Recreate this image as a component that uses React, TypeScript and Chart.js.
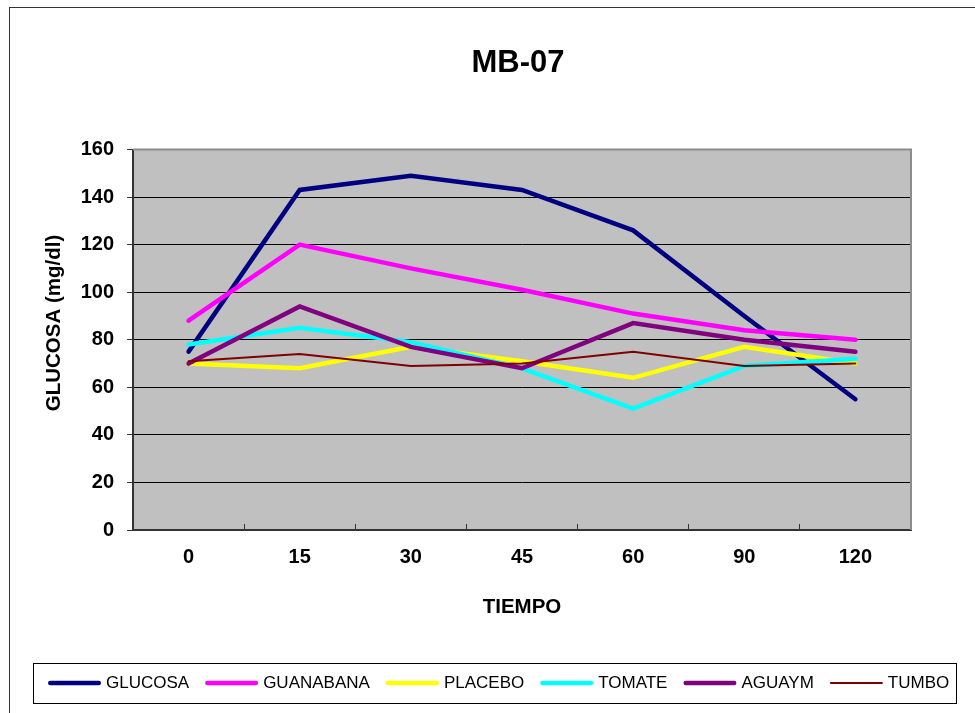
import React, { useEffect, useRef } from "react";
import { Chart, registerables } from "chart.js";

Chart.register(...registerables);

// ---- data ----
const categories = ["0", "15", "30", "45", "60", "90", "120"];
const glucosa = [75, 143, 149, 143, 126, 90, 55];
const guanabana = [88, 120, 110, 101, 91, 84, 80];
const placebo = [70, 68, 77, 71, 64, 77, 70];
const tomate = [78, 85, 79, 68, 51, 69, 72];
const aguaym = [70, 94, 77, 68, 87, 80, 75];
const tumbo = [71, 74, 69, 70, 75, 69, 70];

const seriesNames = ["GLUCOSA", "GUANABANA", "PLACEBO", "TOMATE", "AGUAYM", "TUMBO"];
const seriesValues = [glucosa, guanabana, placebo, tomate, aguaym, tumbo];
const seriesColors = ["#000080", "#FF00FF", "#FFFF00", "#00FFFF", "#800080", "#800000"];
const seriesWidths = [4.5, 4.5, 4.5, 4.5, 4.5, 2];

const yMin = 0;
const yMax = 160;
const yStep = 20;

const chartTitle = "MB-07";
const xTitle = "TIEMPO";
const yTitle = "GLUCOSA (mg/dl)";

const FONT = "'Liberation Sans', Arial, Helvetica, sans-serif";

const decorPlugin = {
  id: "decor",
  beforeDraw(chart: any) {
    const { ctx, chartArea: a } = chart;
    ctx.save();
    ctx.fillStyle = "#ffffff";
    ctx.fillRect(0, 0, chart.width, chart.height);
    ctx.fillStyle = "#C0C0C0";
    ctx.fillRect(a.left, a.top, a.right - a.left, a.bottom - a.top);
    ctx.restore();
  },
  beforeDatasetsDraw(chart: any) {
    const { ctx, chartArea: a } = chart;
    ctx.save();
    ctx.strokeStyle = "#8c8c8c";
    ctx.lineWidth = 2;
    ctx.beginPath();
    ctx.moveTo(a.left, a.top);
    ctx.lineTo(a.right, a.top);
    ctx.lineTo(a.right, a.bottom);
    ctx.stroke();
    ctx.restore();
  },
  afterDraw(chart: any) {
    const { ctx } = chart;
    ctx.save();
    // outer frame
    ctx.strokeStyle = "#333";
    ctx.lineWidth = 1;
    ctx.strokeRect(9.5, 7.5, 1200, 1200);

    // title
    ctx.fillStyle = "#000";
    ctx.textAlign = "center";
    ctx.textBaseline = "middle";
    ctx.font = `bold 31px ${FONT}`;
    ctx.fillText(chartTitle, 518, 63);

    // y title
    ctx.save();
    ctx.translate(54, 323);
    ctx.rotate(-Math.PI / 2);
    ctx.font = `bold 20.5px ${FONT}`;
    ctx.fillText(yTitle, 0, 0);
    ctx.restore();

    // legend
    ctx.strokeStyle = "#000";
    ctx.lineWidth = 1;
    ctx.strokeRect(33.5, 663.5, 923, 40);
    ctx.font = `17px ${FONT}`;
    ctx.textAlign = "left";
    ctx.textBaseline = "middle";
    const cy = 683;
    let x = 48;
    chart.data.datasets.forEach((ds: any) => {
      const hw = ds.borderWidth / 2;
      ctx.strokeStyle = ds.borderColor;
      ctx.lineWidth = ds.borderWidth;
      ctx.lineCap = "round";
      ctx.beginPath();
      ctx.moveTo(x + hw, cy);
      ctx.lineTo(x + 53 - hw, cy);
      ctx.stroke();
      ctx.fillStyle = "#000";
      ctx.fillText(ds.label, x + 58, cy);
      x = x + 58 + ctx.measureText(ds.label).width + 16;
    });
    ctx.restore();
  },
};

export default function App() {
  const canvasRef = useRef<HTMLCanvasElement | null>(null);

  useEffect(() => {
    if (!canvasRef.current) return;
    const datasets = seriesNames.map((name, i) => ({
      label: name,
      data: seriesValues[i],
      borderColor: seriesColors[i],
      backgroundColor: seriesColors[i],
      borderWidth: seriesWidths[i],
      borderCapStyle: "round" as const,
      pointRadius: 0,
      pointHoverRadius: 0,
      tension: 0,
      fill: false,
      order: seriesNames.length - i,
    }));

    const chart = new Chart(canvasRef.current, {
      type: "line",
      data: { labels: categories, datasets },
      options: {
        responsive: false,
        animation: false,
        devicePixelRatio: 1,
        layout: { padding: { top: 149.5, right: 64, bottom: 0, left: 0 } },
        plugins: {
          legend: { display: false },
          title: { display: false },
          tooltip: { enabled: false },
        },
        scales: {
          x: {
            type: "category",
            offset: true,
            grid: {
              offset: true,
              drawOnChartArea: false,
              tickLength: -6,
              tickColor: "#333",
              tickWidth: 1,
            },
            border: { color: "#333", width: 2 },
            ticks: {
              padding: 21,
              color: "#000",
              autoSkip: false,
              maxRotation: 0,
              font: { family: FONT, size: 20, weight: "bold" },
            },
            title: {
              display: true,
              text: xTitle,
              color: "#000",
              font: { family: FONT, size: 20.5, weight: "bold" },
              padding: { top: 0, bottom: 93 },
            },
            afterFit(scale: any) {
              scale.height = 183;
            },
          },
          y: {
            min: yMin,
            max: yMax,
            ticks: {
              stepSize: yStep,
              padding: 13,
              color: "#000",
              font: { family: FONT, size: 20, weight: "bold" },
            },
            grid: { color: "#000", lineWidth: 1, tickLength: 6, tickColor: "#333" },
            border: { color: "#333", width: 2 },
            afterFit(scale: any) {
              scale.width = 133;
            },
          },
        },
      },
      plugins: [decorPlugin],
    });
    return () => chart.destroy();
  }, []);

  return (
    <div style={{ position: "absolute", left: 0, top: 0, width: 975, height: 713 }}>
      <canvas ref={canvasRef} width={975} height={713} />
    </div>
  );
}
